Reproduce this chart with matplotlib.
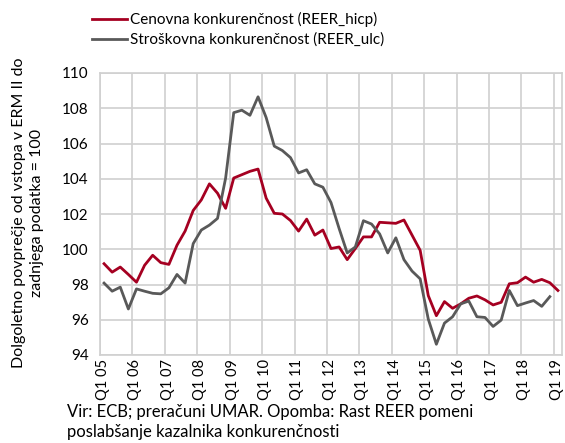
import numpy as np
import matplotlib
matplotlib.use('Agg')
import matplotlib.pyplot as plt

plt.rcParams['font.family'] = ['Lato', 'DejaVu Sans']

# quarterly REER, Q1 2005 .. Q1 2019
years = ['05', '06', '07', '08', '09', '10', '11', '12', '13', '14', '15', '16', '17', '18', '19']
reer_hicp = [99.18, 98.70, 98.99, 98.57, 98.13, 99.09, 99.66, 99.24, 99.14, 100.23,
             101.03, 102.2, 102.8, 103.71, 103.18, 102.32, 104.04, 104.23, 104.42, 104.55,
             102.9, 102.04, 102.0, 101.63, 101.03, 101.71, 100.8, 101.09, 100.04, 100.13,
             99.41, 100.04, 100.7, 100.7, 101.53, 101.5, 101.47, 101.66, 100.8, 99.94,
             97.37, 96.23, 97.03, 96.65, 96.9, 97.22, 97.35, 97.13, 96.84, 96.99,
             98.04, 98.1, 98.42, 98.13, 98.29, 98.1, 97.66]
reer_ulc = [98.08, 97.62, 97.85, 96.61, 97.75, 97.62, 97.50, 97.47, 97.81, 98.57,
            98.08, 100.32, 101.09, 101.37, 101.75, 104.04, 107.75, 107.89, 107.6, 108.65,
            107.47, 105.85, 105.6, 105.2, 104.33, 104.51, 103.71, 103.52, 102.65, 101.18,
            99.79, 100.13, 101.62, 101.43, 100.87, 99.79, 100.65, 99.41, 98.76, 98.32,
            96.04, 94.61, 95.81, 96.17, 96.9, 97.06, 96.17, 96.13, 95.62, 95.98,
            97.66, 96.8, 96.95, 97.09, 96.76, 97.31]

red = '#a50021'
grey = '#595959'
gridc = '#d0d0d0'

fig = plt.figure(figsize=(5.65, 4.43), dpi=100)
ax = fig.add_axes([100 / 565, 1 - 355 / 443, 462 / 565, 282 / 443])

ax.plot(np.arange(len(reer_hicp)), reer_hicp, color=red, lw=2.0,
        label='Cenovna konkurenčnost (REER_hicp)')
ax.plot(np.arange(len(reer_ulc)), reer_ulc, color=grey, lw=2.0,
        label='Stroškovna konkurenčnost (REER_ulc)')

n = len(reer_hicp)
ax.set_xlim(-0.5, n - 0.5)
ax.set_ylim(94, 110)
ax.set_yticks(np.arange(94, 111, 2))
ax.set_xticks(np.arange(0, n, 4) - 0.15)
ax.set_xticklabels(['Q1 ' + y for y in years], rotation=90)
ax.set_xticks(np.arange(-0.5, n, 4), minor=True)
ax.grid(False)
ax.grid(True, which='minor', axis='x', color=gridc, lw=1.2)
ax.grid(True, which='major', axis='y', color=gridc, lw=1.2)
ax.set_axisbelow(True)
ax.tick_params(axis='both', which='both', length=0, colors='black')
ax.tick_params(axis='y', pad=8, labelsize=11)
ax.tick_params(axis='x', pad=3, labelsize=10.5)
for s in ax.spines.values():
    s.set_color(gridc)
    s.set_linewidth(1.2)

fig.text(28 / 565, 1 - 213 / 443,
         'Dolgoletno povprečje od vstopa v ERM II do\nzadnjega podatka = 100',
         fontsize=11.5, rotation=90, ha='center', va='center', multialignment='center',
         linespacing=1.3)

fig.legend(loc='upper left', bbox_to_anchor=(86 / 565, 1 - 6 / 443), frameon=False,
           fontsize=11, handlelength=2.3, handletextpad=0.2, labelspacing=0.35,
           borderaxespad=0)

fig.text(67 / 565, 1 - 404 / 443,
         'Vir: ECB; preračuni UMAR. Opomba: Rast REER pomeni\nposlabšanje kazalnika konkurenčnosti',
         fontsize=12, va='top', ha='left', linespacing=1.3)

fig.savefig('out.png', dpi=100)
